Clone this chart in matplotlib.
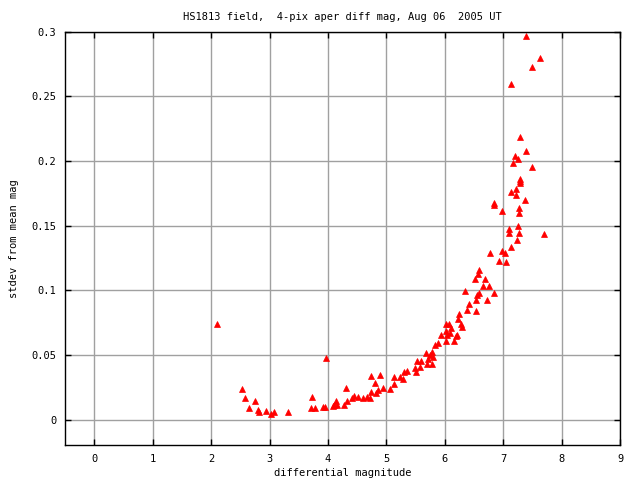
import matplotlib
matplotlib.use("Agg")
import matplotlib.pyplot as plt

title = "HS1813 field,  4-pix aper diff mag, Aug 06  2005 UT"
xlabel = "differential magnitude"
ylabel = "stdev from mean mag"

mag = [2.108, 2.535, 2.587, 2.757, 2.655, 2.809, 2.826, 2.945, 3.031, 3.082,
       3.32, 3.73, 3.715, 3.78, 3.91, 3.95, 3.97, 4.08, 4.10, 4.14,
       4.16, 4.28, 4.33, 4.31, 4.415, 4.45, 4.52, 4.59, 4.67, 4.71,
       4.74, 4.74, 4.81, 4.826, 4.86, 4.89, 4.945, 5.065, 5.13, 5.13,
       5.236, 5.287, 5.30, 5.355, 5.48, 5.51, 5.53, 5.595, 5.58, 5.68,
       5.70, 5.715, 5.75, 5.77, 5.78, 5.80, 5.835, 5.885, 5.94, 6.02,
       6.16, 6.04, 6.09, 6.02, 6.11, 6.02, 6.07, 6.18, 6.20, 6.28,
       6.295, 6.23, 6.245, 6.38, 6.535, 6.415, 6.535, 6.72, 6.35, 6.586,
       6.55, 6.84, 6.655, 6.757, 6.52, 6.69, 6.57, 6.586, 6.93, 7.05,
       6.77, 6.98, 7.03, 7.13, 7.235, 7.10, 7.27, 7.70, 7.10, 7.25,
       7.27, 7.27, 6.97, 6.84, 6.84, 7.37, 7.22, 7.12, 7.22, 7.29,
       7.29, 7.29, 7.49, 7.17, 7.25, 7.20, 7.39, 7.29, 7.12, 7.49,
       7.62, 7.39]
stdev = [0.0739, 0.0236, 0.0166, 0.0143, 0.0089, 0.0076, 0.0060, 0.0068, 0.0045, 0.0060,
         0.0060, 0.0174, 0.0089, 0.0089, 0.0097, 0.0097, 0.0478, 0.0104, 0.0115, 0.0143,
         0.0112, 0.0112, 0.0143, 0.0244, 0.0166, 0.0182, 0.0174, 0.0166, 0.0174, 0.0166,
         0.0213, 0.0336, 0.0282, 0.0205, 0.0228, 0.0344, 0.0244, 0.0236, 0.0274, 0.0329,
         0.0329, 0.0313, 0.0367, 0.0375, 0.0398, 0.0367, 0.0452, 0.0452, 0.0406, 0.0514,
         0.0429, 0.0468, 0.0499, 0.0522, 0.0429, 0.0483, 0.0576, 0.0592, 0.0653, 0.0607,
         0.0607, 0.0653, 0.0669, 0.0684, 0.0708, 0.0739, 0.0739, 0.0646, 0.0653, 0.0739,
         0.0715, 0.0777, 0.0816, 0.0847, 0.0839, 0.0893, 0.0924, 0.0924, 0.0994, 0.0978,
         0.0963, 0.0978, 0.1032, 0.1032, 0.1087, 0.1087, 0.1125, 0.1156, 0.1226, 0.1218,
         0.1288, 0.1303, 0.1288, 0.1334, 0.1388, 0.1442, 0.1442, 0.1435, 0.1473, 0.1497,
         0.1597, 0.1636, 0.1613, 0.1660, 0.1675, 0.1698, 0.1737, 0.1760, 0.1783, 0.1830,
         0.1845, 0.1860, 0.1953, 0.1984, 0.2015, 0.2038, 0.2077, 0.2185, 0.2594, 0.2730,
         0.2800, 0.2966]

xticks = [0, 1, 2, 3, 4, 5, 6, 7, 8, 9]
yticks = [0, 0.05, 0.1, 0.15, 0.2, 0.25, 0.3]
yticklabels = ["0", "0.05", "0.1", "0.15", "0.2", "0.25", "0.3"]

plt.rcParams['font.family'] = ['DejaVu Sans Mono']
fs = 7.5

fig = plt.figure(figsize=(6.4, 4.8), dpi=100)
ax = fig.add_axes([0.1012, 0.0721, 0.9695 - 0.1012, 0.934 - 0.0721])
ax.set_xlim(-0.5, 9)
ax.set_ylim(-0.02, 0.3)
ax.set_xticks(xticks)
ax.set_xticklabels([str(t) for t in xticks], fontsize=fs)
ax.set_yticks(yticks)
ax.set_yticklabels(yticklabels, fontsize=fs)
ax.grid(True, color="#a0a0a0", linewidth=1.0)
ax.set_axisbelow(True)
ax.tick_params(direction="in", length=4, width=1, top=True, right=True, pad=6)
for s in ax.spines.values():
    s.set_linewidth(1.0)
    s.set_color("black")

ax.plot(mag, stdev, linestyle="none", marker="^", markersize=4.3,
        color="red", markeredgecolor="red", markeredgewidth=0.5, clip_on=False)

ax.set_title(title, fontsize=fs, pad=8.5)
ax.set_xlabel(xlabel, fontsize=fs, labelpad=3)
ax.set_ylabel(ylabel, fontsize=fs, labelpad=9)

fig.savefig("out.png", dpi=100)
